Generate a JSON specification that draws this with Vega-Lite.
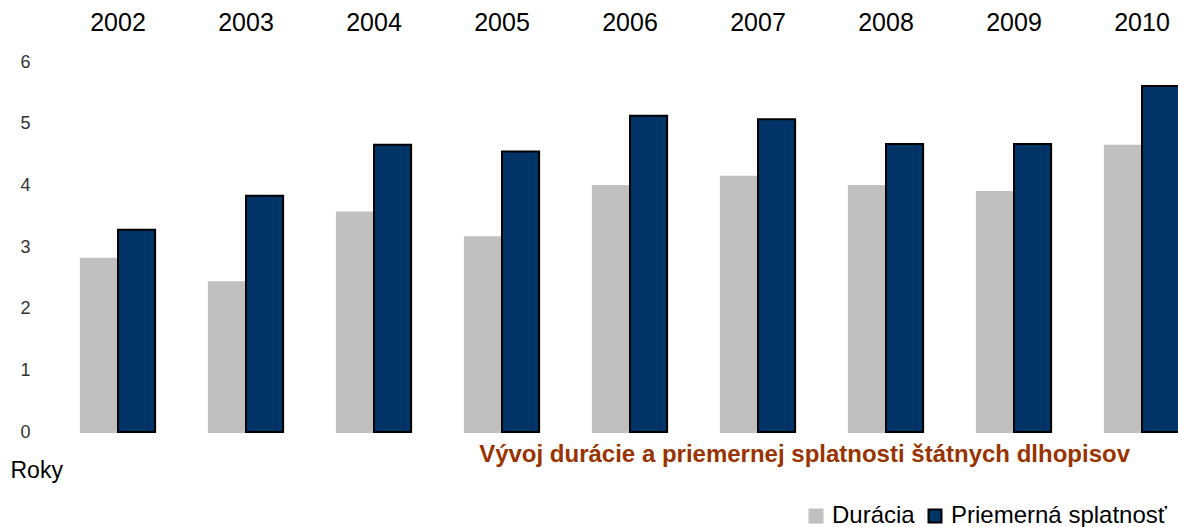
{
  "$schema": "https://vega.github.io/schema/vega-lite/v6.json",
  "width": 1124,
  "height": 370,
  "autosize": {"type": "none"},
  "padding": {"left": 54, "top": 62, "right": 0, "bottom": 95},
  "background": "white",
  "config": {"font": "Liberation Sans", "view": {"stroke": null}},
  "title": {
    "text": "Vývoj durácie a priemernej splatnosti štátnych dlhopisov",
    "orient": "bottom",
    "anchor": "end",
    "frame": "group",
    "baseline": "middle",
    "fontSize": 24,
    "fontWeight": "bold",
    "color": "#993300",
    "offset": -73,
    "dx": -48
  },
  "data": {
    "values": [
      {"rok": "2002", "seria": "Durácia", "hodnota": 2.81},
      {"rok": "2002", "seria": "Priemerná splatnosť", "hodnota": 3.28},
      {"rok": "2003", "seria": "Durácia", "hodnota": 2.43},
      {"rok": "2003", "seria": "Priemerná splatnosť", "hodnota": 3.83},
      {"rok": "2004", "seria": "Durácia", "hodnota": 3.56},
      {"rok": "2004", "seria": "Priemerná splatnosť", "hodnota": 4.66},
      {"rok": "2005", "seria": "Durácia", "hodnota": 3.16},
      {"rok": "2005", "seria": "Priemerná splatnosť", "hodnota": 4.55},
      {"rok": "2006", "seria": "Durácia", "hodnota": 3.99},
      {"rok": "2006", "seria": "Priemerná splatnosť", "hodnota": 5.13},
      {"rok": "2007", "seria": "Durácia", "hodnota": 4.14},
      {"rok": "2007", "seria": "Priemerná splatnosť", "hodnota": 5.07},
      {"rok": "2008", "seria": "Durácia", "hodnota": 3.99},
      {"rok": "2008", "seria": "Priemerná splatnosť", "hodnota": 4.67},
      {"rok": "2009", "seria": "Durácia", "hodnota": 3.89},
      {"rok": "2009", "seria": "Priemerná splatnosť", "hodnota": 4.67},
      {"rok": "2010", "seria": "Durácia", "hodnota": 4.64},
      {"rok": "2010", "seria": "Priemerná splatnosť", "hodnota": 5.61}
    ]
  },
  "mark": {"type": "bar", "strokeWidth": 2},
  "encoding": {
    "x": {
      "field": "rok",
      "type": "nominal",
      "scale": {"range": [0, 1152], "paddingInner": 0.42, "paddingOuter": 0.21},
      "axis": {
        "orient": "top",
        "title": null,
        "domain": false,
        "ticks": false,
        "labelAngle": 0,
        "labelFontSize": 25,
        "labelPadding": 27,
        "labelColor": "#000000"
      }
    },
    "xOffset": {"field": "seria", "type": "nominal", "sort": ["Durácia", "Priemerná splatnosť"]},
    "y": {
      "field": "hodnota",
      "type": "quantitative",
      "scale": {"domain": [0, 6], "nice": false},
      "axis": {
        "title": "Roky",
        "titleAngle": 0,
        "titleX": -44,
        "titleY": 408,
        "titleAlign": "left",
        "titleBaseline": "middle",
        "titleFontSize": 23,
        "titleFontWeight": "normal",
        "titleColor": "#000000",
        "values": [0, 1, 2, 3, 4, 5, 6],
        "grid": false,
        "domain": false,
        "ticks": false,
        "labelFontSize": 18,
        "labelPadding": 24,
        "labelColor": "#333333"
      }
    },
    "color": {
      "field": "seria",
      "type": "nominal",
      "sort": ["Durácia", "Priemerná splatnosť"],
      "scale": {"domain": ["Durácia", "Priemerná splatnosť"], "range": ["#c0c0c0", "#003366"]},
      "legend": {
        "orient": "none",
        "legendX": 750,
        "legendY": 442,
        "direction": "horizontal",
        "title": null,
        "symbolType": "square",
        "symbolSize": 169,
        "symbolStrokeWidth": 2,
        "labelFontSize": 24,
        "labelLimit": 400,
        "labelColor": "#000000",
        "columnPadding": 8,
        "labelOffset": 4
      }
    },
    "stroke": {
      "field": "seria",
      "type": "nominal",
      "sort": ["Durácia", "Priemerná splatnosť"],
      "scale": {"domain": ["Durácia", "Priemerná splatnosť"], "range": ["#c0c0c0", "#000000"]}
    }
  }
}
